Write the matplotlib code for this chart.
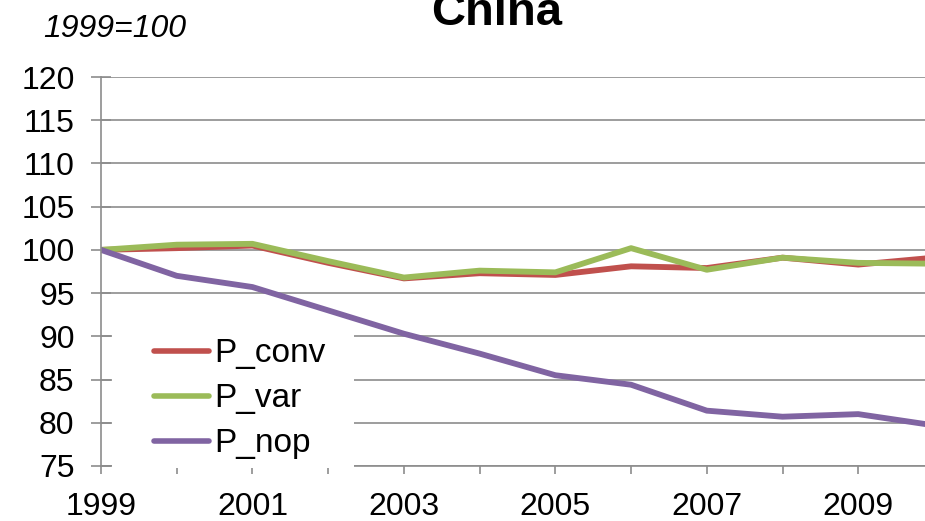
import numpy as np
import matplotlib.pyplot as plt
from matplotlib.patches import Rectangle

plt.rcParams['font.family'] = ['Liberation Sans', 'DejaVu Sans']

# price indices, 1999 = 100
years = [1999, 2000, 2001, 2002, 2003, 2004, 2005, 2006, 2007, 2008, 2009, 2010]
p_conv = [100.0, 100.2, 100.5, 98.5, 96.7, 97.3, 97.1, 98.1, 97.9, 99.1, 98.3, 99.1]
p_var = [100.0, 100.6, 100.7, 98.7, 96.8, 97.6, 97.4, 100.2, 97.7, 99.1, 98.5, 98.4]
p_nop = [100.0, 97.0, 95.7, 93.0, 90.3, 88.0, 85.5, 84.4, 81.4, 80.7, 81.0, 79.7]

series = [("P_conv", p_conv, "#C0504D"),
          ("P_var", p_var, "#9BBB59"),
          ("P_nop", p_nop, "#8064A2")]

grey = "#8C8C8C"

fig = plt.figure(figsize=(9.25, 5.21), dpi=100)
ax = fig.add_axes([0.1092, 0.1056, 0.9005, 0.7466])

for name, vals, col in series:
    ax.plot(years, vals, color=col, lw=4.2, label=name,
            solid_capstyle='round', solid_joinstyle='round', zorder=3)

ax.set_xlim(1999, 2010)
ax.set_ylim(75, 120)
ax.set_yticks(np.arange(75, 121, 5))
ax.set_xticks(years)
ax.set_xticklabels([str(y) if y % 2 == 1 else "" for y in years])

ax.yaxis.grid(True, color=grey, lw=1.2)
ax.set_axisbelow(True)
for s in ['top', 'right']:
    ax.spines[s].set_visible(False)
for s in ['left', 'bottom']:
    ax.spines[s].set_color(grey)
    ax.spines[s].set_linewidth(1.2)
ax.spines['left'].set_zorder(6)

ax.tick_params(axis='y', direction='inout', length=14, width=1.2, color=grey,
               labelsize=23, pad=12)
ax.tick_params(axis='x', direction='out', length=6, width=1.2, color=grey,
               labelsize=23, pad=13)

# white block behind the legend, hides grid and bottom axis
ax.add_patch(Rectangle((0.013, -0.005), 0.291, 0.38, transform=ax.transAxes,
                       facecolor='white', edgecolor='none', zorder=2.7,
                       clip_on=False))

leg = ax.legend(loc='lower left', bbox_to_anchor=(0.056, 0.0), fontsize=24,
                frameon=False, handlelength=1.65, handletextpad=0.15,
                labelspacing=0.42, borderpad=0.0, borderaxespad=0.2)
for h in leg.get_lines():
    h.set_linewidth(4.0)
    h.set_solid_capstyle('round')

fig.text(0.537, 1 - 25 / 521, "China", fontsize=34, fontweight='bold',
         ha='center', va='baseline')
fig.text(43 / 925, 1 - 37 / 521, "1999=100", fontsize=23, style='italic',
         ha='left', va='baseline')

fig.savefig("out.png", dpi=100)
